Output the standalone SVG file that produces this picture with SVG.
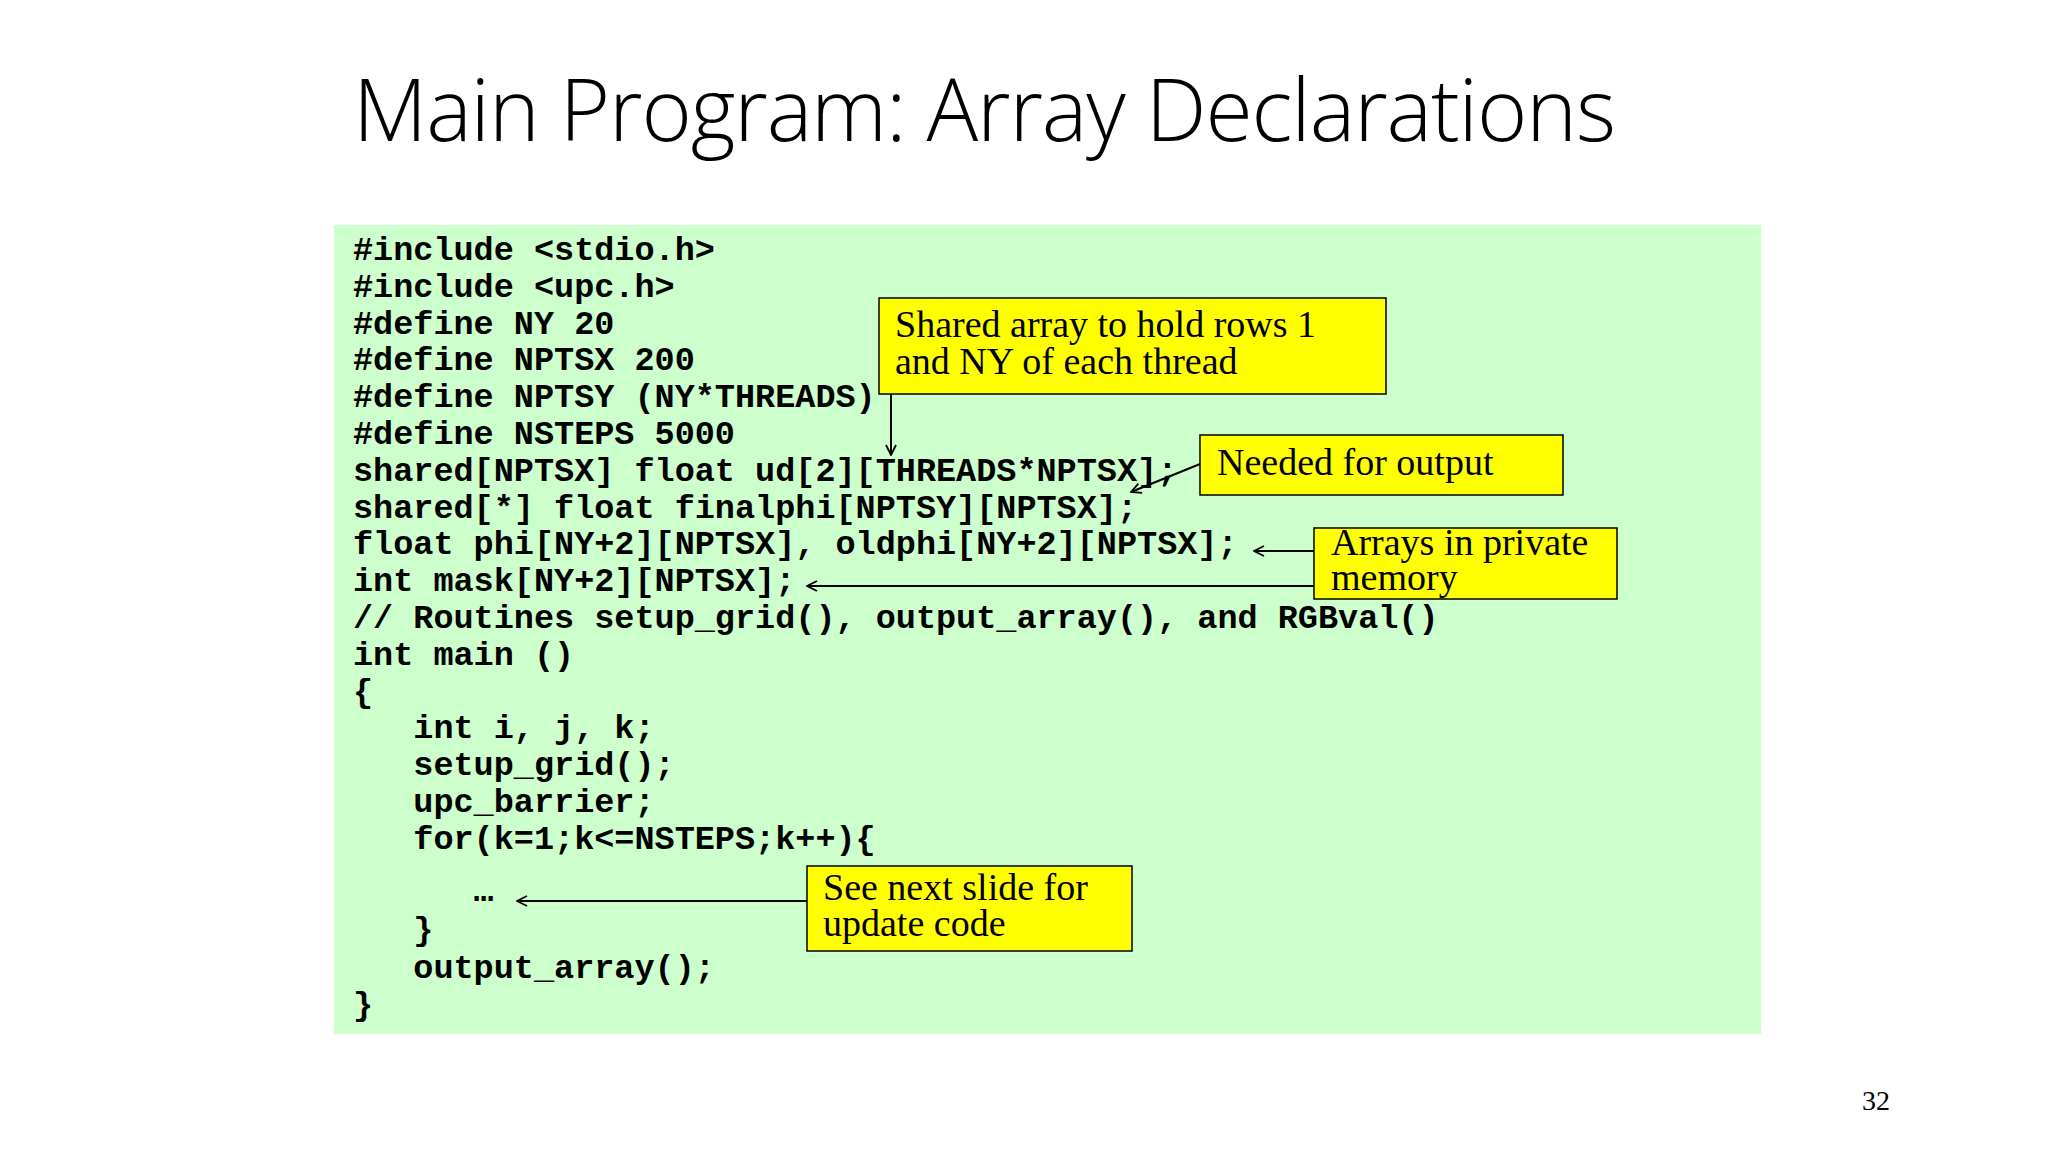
<svg xmlns="http://www.w3.org/2000/svg" width="2048" height="1152" viewBox="0 0 2048 1152">
<style>
.code{font-family:"Liberation Mono",monospace;font-weight:bold;font-size:33.5px;fill:#000;white-space:pre}
.call{font-family:"Liberation Serif",serif;font-size:38px;fill:#000}
.box{fill:#FFFF00;stroke:#000;stroke-width:1.5}
.con{stroke:#000;stroke-width:2;fill:none;marker-end:url(#ah)}
</style>
<defs><marker id="ah" viewBox="0 0 12 12" refX="11" refY="6" markerWidth="12" markerHeight="12" markerUnits="userSpaceOnUse" orient="auto"><path d="M1,1 L11,6 L1,11" fill="none" stroke="#000" stroke-width="1.8"/></marker></defs>
<rect width="2048" height="1152" fill="#fff"/>
<text x="353" y="141" font-family="Open Sans, sans-serif" font-weight="300" font-size="86" textLength="1263" fill="#000">Main Program: Array Declarations</text>
<g id="code">
<rect x="334" y="225" width="1427" height="809" fill="#CCFFCC"/>
<text class="code" x="353" y="260">#include &lt;stdio.h&gt;</text>
<text class="code" x="353" y="297">#include &lt;upc.h&gt;</text>
<text class="code" x="353" y="334">#define NY 20</text>
<text class="code" x="353" y="370">#define NPTSX 200</text>
<text class="code" x="353" y="407">#define NPTSY (NY*THREADS)</text>
<text class="code" x="353" y="444">#define NSTEPS 5000</text>
<text class="code" x="353" y="481">shared[NPTSX] float ud[2][THREADS*NPTSX];</text>
<text class="code" x="353" y="518">shared[*] float finalphi[NPTSY][NPTSX];</text>
<text class="code" x="353" y="554">float phi[NY+2][NPTSX], oldphi[NY+2][NPTSX];</text>
<text class="code" x="353" y="591">int mask[NY+2][NPTSX];</text>
<text class="code" x="353" y="628">// Routines setup_grid(), output_array(), and RGBval()</text>
<text class="code" x="353" y="665">int main ()</text>
<text class="code" x="353" y="702">{</text>
<text class="code" x="353" y="738">   int i, j, k;</text>
<text class="code" x="353" y="775">   setup_grid();</text>
<text class="code" x="353" y="812">   upc_barrier;</text>
<text class="code" x="353" y="849">   for(k=1;k&lt;=NSTEPS;k++){</text>
<text class="code" x="353" y="901">      …</text>
<text class="code" x="353" y="940">   }</text>
<text class="code" x="353" y="978">   output_array();</text>
<text class="code" x="353" y="1015">}</text>
</g>
<g id="c1"><rect class="box" x="879" y="298" width="507" height="96"/>
<text class="call" x="895" y="337">Shared array to hold rows 1</text><text class="call" x="895" y="374">and NY of each thread</text></g>
<g id="c2"><rect class="box" x="1200" y="435" width="363" height="60"/>
<text class="call" x="1217" y="475">Needed for output</text></g>
<g id="c3"><rect class="box" x="1314" y="528" width="303" height="71"/>
<text class="call" x="1331" y="555">Arrays in private</text><text class="call" x="1331" y="590">memory</text></g>
<g id="c4"><rect class="box" x="807" y="866" width="325" height="85"/>
<text class="call" x="823" y="900">See next slide for</text><text class="call" x="823" y="936">update code</text></g>
<g id="connectors">
<line class="con" x1="891" y1="394" x2="891" y2="455"/>
<line class="con" x1="1200" y1="464" x2="1131" y2="492"/>
<line class="con" x1="1314" y1="551" x2="1254" y2="551"/>
<line class="con" x1="1314" y1="586" x2="807" y2="586"/>
<line class="con" x1="807" y1="901" x2="517" y2="901"/>
</g>
<text x="1862" y="1110" font-family="Liberation Serif, serif" font-size="28" fill="#000">32</text>
</svg>
